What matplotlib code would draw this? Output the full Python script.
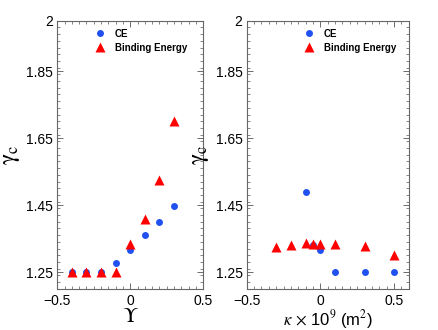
import matplotlib
matplotlib.use("Agg")
import matplotlib.pyplot as plt
from matplotlib.ticker import MultipleLocator, FixedLocator

# left panel: gamma_c vs Upsilon
ups = [-0.4, -0.3, -0.2, -0.1, 0.0, 0.1, 0.2, 0.3]
ce_left = [1.25, 1.25, 1.25, 1.277, 1.316, 1.36, 1.40, 1.446]
be_left = [1.25, 1.25, 1.25, 1.25, 1.333, 1.408, 1.525, 1.702]

# right panel: gamma_c vs kappa
kappa_ce = [-0.1, -0.05, 0.0, 0.1, 0.3, 0.5]
ce_right = [1.488, 1.33, 1.316, 1.25, 1.25, 1.25]
kappa_be = [-0.3, -0.2, -0.1, -0.05, 0.0, 0.1, 0.3, 0.5]
be_right = [1.325, 1.33, 1.336, 1.335, 1.333, 1.335, 1.329, 1.30]

yticks = [1.25, 1.45, 1.65, 1.85, 2]
ytick_labels = ["1.25", "1.45", "1.65", "1.85", "2"]

blue = "#2050f0"
red = "#ff0000"

plt.rcParams["mathtext.fontset"] = "stix"
plt.rcParams["font.family"] = ["Liberation Sans", "DejaVu Sans"]

fig = plt.figure(figsize=(4.39, 3.30), dpi=100)
ax1 = fig.add_axes([0.1305, 0.125, 0.3326, 0.812])
ax2 = fig.add_axes([0.562, 0.125, 0.369, 0.812])


def style(ax, xlim):
    ax.set_xlim(*xlim)
    ax.set_ylim(1.2, 2)
    ax.yaxis.set_major_locator(FixedLocator(yticks))
    ax.set_yticklabels(ytick_labels)
    ax.yaxis.set_minor_locator(MultipleLocator(0.02))
    ax.set_xticks([-0.5, 0, 0.5])
    ax.set_xticklabels(["\u22120.5", "0", "0.5"])
    ax.xaxis.set_minor_locator(MultipleLocator(0.05))
    ax.tick_params(which="both", direction="in", top=True, right=True,
                   color="#555555", labelsize=10)
    ax.tick_params(axis="y", pad=3)
    ax.tick_params(axis="x", pad=4)
    ax.tick_params(which="major", length=4, width=0.6)
    ax.tick_params(which="minor", length=2, width=0.5)
    for s in ax.spines.values():
        s.set_color("#666666")
        s.set_linewidth(0.8)


panels = [(ax1, ups, ce_left, ups, be_left, 0.20, (-0.5, 0.5)),
          (ax2, kappa_ce, ce_right, kappa_be, be_right, 0.302, (-0.5, 0.6))]
for ax, xs_ce, ce, xs_be, be, lx, xlim in panels:
    ax.plot(xs_ce, ce, "o", color=blue, ms=5, mec="none", label="CE")
    ax.plot(xs_be, be, "^", color=red, ms=7, mec="none", label="Binding Energy")
    ax.legend(loc="upper left", bbox_to_anchor=(lx, 0.985), frameon=False,
              prop={"size": 7, "weight": "bold"}, handletextpad=0.5,
              labelspacing=0.4, borderaxespad=0)
    ax.set_ylabel(r"$\mathrm{\gamma_c}$", fontsize=17, labelpad=3)
    style(ax, xlim)

ax1.set_xlabel(r"$\Upsilon$", fontsize=15, labelpad=-1)
ax2.set_xlabel(r"$\kappa$ $\times$ 10$^9$ (m$^2$)", fontsize=12, labelpad=0)

fig.savefig("out.png", dpi=100)
